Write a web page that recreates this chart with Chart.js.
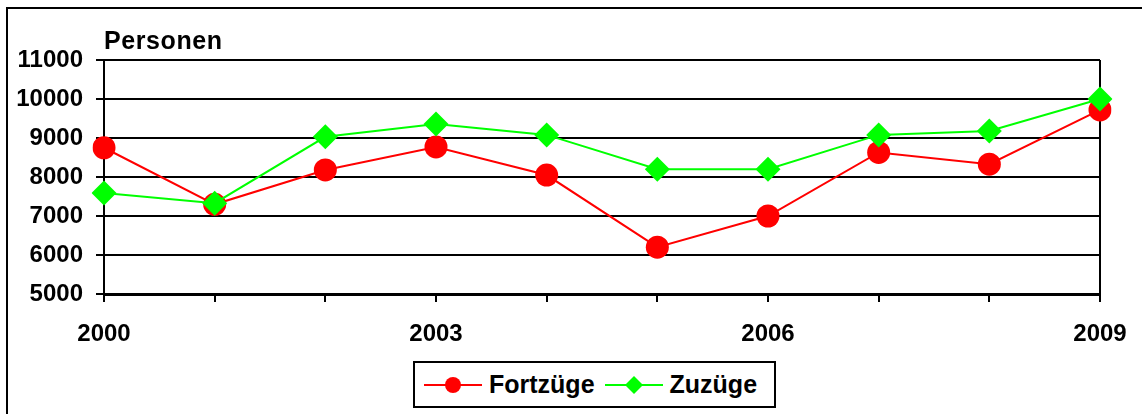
<!DOCTYPE html>
<html>
<head>
<meta charset="utf-8">
<script src="https://cdn.jsdelivr.net/npm/chart.js@4.4.1/dist/chart.umd.min.js"></script>
<style>
  html, body { margin: 0; padding: 0; background: #fff; }
  body { width: 1142px; height: 414px; position: relative; overflow: hidden; font-family: "Liberation Sans", Arial, sans-serif; }
  #frame { position: absolute; left: 6px; top: 7px; width: 1150px; height: 420px; border: 2px solid #000; box-sizing: border-box; }
  #wrap { position: absolute; left: 0; top: 0; width: 1142px; height: 414px; }
  #ytitle { position: absolute; left: 104px; top: 26px; font-weight: bold; font-size: 25px; letter-spacing: 0.6px; color: #000; }
  #legend { position: absolute; left: 413px; top: 361px; width: 363px; height: 47px; border: 2px solid #000; box-sizing: border-box; background: #fff;
            display: flex; align-items: center; padding-left: 8px; font-weight: bold; font-size: 25px; color: #000; }
  .item { display: flex; align-items: center; }
  .item svg { margin-right: 6px; }
  .item + .item { margin-left: 9px; }
</style>
</head>
<body>
<div id="frame"></div>
<div id="wrap"><canvas id="c" width="1142" height="414"></canvas></div>
<div id="ytitle">Personen</div>
<div id="legend">
  <div class="item"><svg width="60" height="24"><line x1="1" y1="12" x2="59" y2="12" stroke="#FF0000" stroke-width="2"/><circle cx="30" cy="12" r="8" fill="#FF0000"/></svg><span>Fortzüge</span></div>
  <div class="item"><svg width="60" height="24"><line x1="1" y1="12" x2="59" y2="12" stroke="#00FF00" stroke-width="2"/><polygon points="30,3 39,12 30,21 21,12" fill="#00FF00"/></svg><span>Zuzüge</span></div>
</div>
<script>
const years = ['2000','2001','2002','2003','2004','2005','2006','2007','2008','2009'];
const fortzuege = [8750, 7300, 8180, 8770, 8050, 6200, 7000, 8630, 8330, 9720];
const zuzuege = [7590, 7330, 9030, 9360, 9080, 8200, 8200, 9080, 9180, 10000];
const shownYears = ['2000','2003','2006','2009'];
const yMin = 5000, yMax = 11000, yStep = 1000;

const fontFamily = '"Liberation Sans", Arial, sans-serif';

new Chart(document.getElementById('c'), {
  type: 'line',
  data: {
    labels: years,
    datasets: [
      {
        label: 'Fortzüge',
        data: fortzuege,
        borderColor: '#FF0000',
        backgroundColor: '#FF0000',
        borderWidth: 2,
        pointStyle: 'circle',
        pointRadius: 11.5,
        pointBorderWidth: 0,
        pointBackgroundColor: '#FF0000',
        tension: 0,
        order: 1
      },
      {
        label: 'Zuzüge',
        data: zuzuege,
        borderColor: '#00FF00',
        backgroundColor: '#00FF00',
        borderWidth: 2,
        pointStyle: 'rectRot',
        pointRadius: 12.5,
        pointBorderWidth: 0,
        pointBackgroundColor: '#00FF00',
        tension: 0,
        order: 0
      }
    ]
  },
  options: {
    responsive: false,
    animation: false,
    events: [],
    layout: { padding: { left: 0, right: 42, top: 60, bottom: 60 } },
    plugins: { legend: { display: false }, tooltip: { enabled: false }, title: { display: false } },
    scales: {
      x: {
        type: 'category',
        offset: false,
        afterFit: (s) => { s.height = 60; s.paddingRight = 0; s.paddingLeft = 0; },
        border: { display: true, color: '#000', width: 3 },
        grid: {
          drawOnChartArea: true,
          drawTicks: true,
          tickLength: 8,
          tickWidth: 2,
          tickColor: '#000',
          lineWidth: 2,
          color: (ctx) => (ctx.index === years.length - 1 ? '#000' : 'rgba(0,0,0,0)')
        },
        ticks: {
          autoSkip: false,
          maxRotation: 0,
          minRotation: 0,
          padding: 18,
          color: '#000',
          font: { family: fontFamily, size: 24, weight: 'bold' },
          callback: function(value, index) {
            const lab = this.getLabelForValue(value);
            return shownYears.includes(lab) ? lab : '';
          }
        }
      },
      y: {
        min: yMin,
        max: yMax,
        afterFit: (s) => { s.width = 104; },
        border: { display: true, color: '#000', width: 2 },
        grid: {
          color: '#000',
          lineWidth: 2,
          tickLength: 8,
          tickColor: '#000'
        },
        ticks: {
          stepSize: yStep,
          padding: 13,
          color: '#000',
          font: { family: fontFamily, size: 24, weight: 'bold' },
          callback: (v) => String(v)
        }
      }
    }
  }
});
</script>
</body>
</html>
